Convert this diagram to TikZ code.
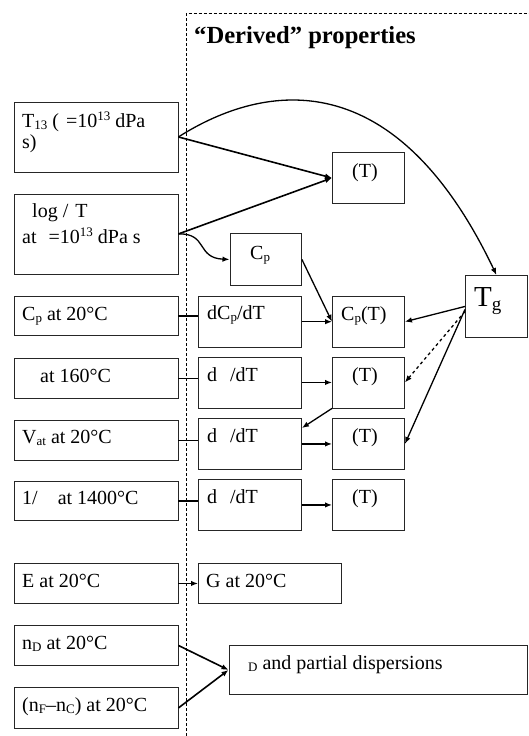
\documentclass[tikz,border=0pt]{standalone}
\usepackage{fontspec}
\setmainfont{Liberation Serif}
\usetikzlibrary{arrows.meta,calc}
\newcommand\lsub[1]{\raisebox{-0.12em}{\fontsize{13}{13}\selectfont #1}}
\newcommand\lsup[1]{\raisebox{0.35em}{\fontsize{13}{13}\selectfont #1}}
\begin{document}
\begin{tikzpicture}[x=1pt,y=-1pt,
  box/.style={draw=black!85, line width=0.9pt, inner sep=0pt, anchor=north west},
  wh/.style 2 args={minimum width=#1pt, minimum height=#2pt},
  txt/.style={anchor=base west, inner sep=0pt, font=\fontsize{20}{24}\selectfont},
  ctxt/.style={anchor=base, inner sep=0pt, font=\fontsize{20}{24}\selectfont},
  arr/.style={-{Latex[length=7pt,width=5.5pt]}, line width=1.3pt},
  link/.style={line width=1.3pt},
  frame/.style={dash pattern=on 3pt off 2pt, line width=0.9pt}]
\useasboundingbox (0,0) rectangle (529,736);
\fill[white] (0,0) rectangle (529,736);

% dashed frame of the derived properties
\draw[frame] (186,736) -- (186,13.5) -- (529,13.5);
\node[anchor=base west, inner sep=0pt, font=\fontsize{24.6}{29}\selectfont\bfseries] (title) at (194,43) {“Derived” properties};

% left column
\node[box, wh={164}{70}] (L1) at (13.5,101.5) {};
\node[box, wh={164}{80}] (L2) at (13.5,193.5) {};
\node[box, wh={164}{39}] (L3) at (13.5,296) {};
\node[box, wh={164}{39.5}] (L4) at (13.5,358) {};
\node[box, wh={164}{40}] (L5) at (13.5,420) {};
\node[box, wh={164}{39}] (L6) at (13.5,481) {};
\node[box, wh={164}{40}] (L7) at (13.5,563) {};
\node[box, wh={164}{40}] (L8) at (13.5,625) {};
\node[box, wh={164}{41}] (L9) at (13.5,687) {};

\node[txt] (t1a) at (22,127) {T\lsub{13} (\hspace{0.35em}=10\lsup{13} dPa};
\node[txt] (t1b) at (22,148) {s)};
\node[txt] (t2a) at (32,217) {log\hspace{0.25em}/\hspace{0.35em}T};
\node[txt] (t2b) at (22,243) {at\hspace{0.6em}=10\lsup{13} dPa s};
\node[txt] (t3) at (22,320) {C\lsub{p} at 20°C};
\node[txt] (t4) at (40,382) {at 160°C};
\node[txt] (t5) at (22,443) {V\lsub{at} at 20°C};
\node[txt] (t6) at (22,504) {1/\hspace{1em}at 1400°C};
\node[txt] (t7) at (22,587) {E at 20°C};
\node[txt] (t8) at (22,649) {n\lsub{D} at 20°C};
\node[txt] (t9) at (22,711) {(n\lsub{F}–n\lsub{C}) at 20°C};

% middle column
\node[box, wh={71.5}{52}] (Cp) at (229.5,233) {};
\node[box, wh={103}{51.5}] (M3) at (198,295.5) {};
\node[box, wh={103}{51}] (M4) at (198,356.5) {};
\node[box, wh={103}{51}] (M5) at (198,418) {};
\node[box, wh={103}{51}] (M6) at (198,479) {};
\node[box, wh={143}{40}] (G) at (198,563) {};

\node[txt] (tcp) at (250,259) {C\lsub{p}};
\node[txt] (tm3) at (207,319) {dC\lsub{p}/dT};
\node[txt] (tm4) at (207,381) {d\hspace{0.65em}/dT};
\node[txt] (tm5) at (207,442) {d\hspace{0.65em}/dT};
\node[txt] (tm6) at (207,503) {d\hspace{0.65em}/dT};
\node[txt] (tg) at (206,587) {G at 20°C};

% right column
\node[box, wh={72}{51}] (R1) at (332,152) {};
\node[box, wh={72}{51.5}] (R3) at (332,295.5) {};
\node[box, wh={72}{51}] (R4) at (332,356.5) {};
\node[box, wh={72}{51}] (R5) at (332,418) {};
\node[box, wh={72}{51}] (R6) at (332,479) {};
\node[box, wh={62}{62}] (Tg) at (465,275) {};
\node[box, wh={298.5}{49}] (D) at (228.5,645) {};

\node[ctxt] (tr1) at (365,177) {(T)};
\node[txt] (tr3) at (341,320) {C\lsub{p}(T)};
\node[ctxt] (tr4) at (365,381) {(T)};
\node[ctxt] (tr5) at (365,442) {(T)};
\node[ctxt] (tr6) at (365,503) {(T)};
\node[anchor=base west, inner sep=0pt, font=\fontsize{29}{32}\selectfont] (ttg) at (474,306) {T\raisebox{-0.17em}{\fontsize{19}{19}\selectfont g}};
\node[txt] (td) at (248,669) {\lsub{D} and partial dispersions};

% connectors
\draw[arr, line width=1.6pt] (L1.east) -- (R1.west);
\draw[arr, line width=1.6pt] (L2.east) -- (R1.west);
\draw[arr] (L1.east) .. controls (265,82) and (395,62) .. (Tg.north);
\draw[arr] (L2.east) .. controls (208,233) and (196,258) .. (Cp.west);
\draw[arr] (Cp.east) -- (R3.west);
\draw[arr] (M3.east) -- (R3.west);
\draw[link, line width=2.2pt] (L3.east) -- (L3.east -| M3.west);
\draw[arr] (Tg.west) -- (R3.east);
\draw[arr, dashed] ([yshift=-5pt]Tg.west) -- (R4.east);
\draw[arr] ([yshift=-3pt]Tg.west) -- (R5.east);
\draw[link] (L4.east) -- (L4.east -| M4.west);
\draw[arr] (M4.east) -- (R4.west);
\draw[arr] (R4.south west) -- ([yshift=-10pt]M5.north east);
\draw[link] (L5.east) -- (L5.east -| M5.west);
\draw[arr] (M5.east) -- (R5.west);
\draw[link] (L6.east) -- (L6.east -| M6.west);
\draw[arr] (M6.east) -- (R6.west);
\draw[arr] (L7.east) -- (G.west);
\draw[arr, line width=1.6pt] (L8.east) -- (D.west);
\draw[arr, line width=1.6pt] (L9.east) -- (D.west);
\end{tikzpicture}
\end{document}
